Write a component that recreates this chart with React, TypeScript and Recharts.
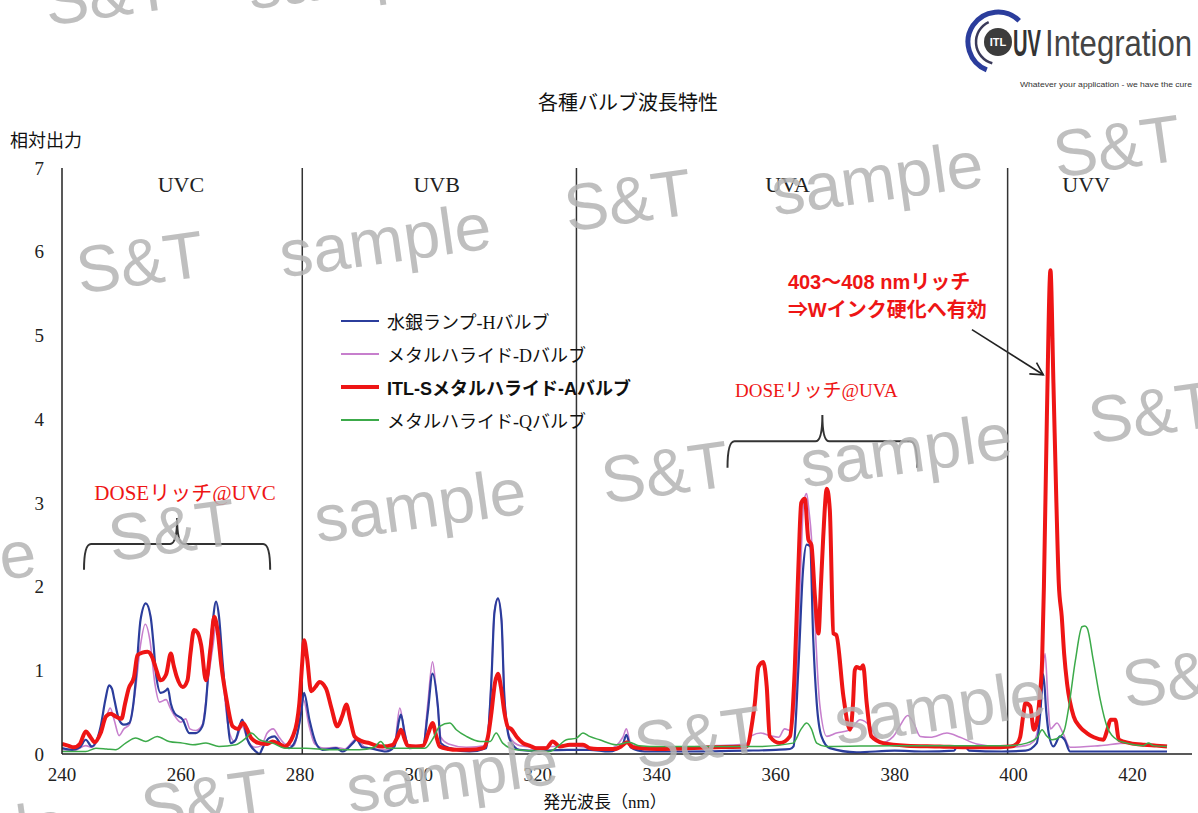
import React from 'react';
import {
  LineChart,
  Line,
  XAxis,
  YAxis,
  ReferenceLine,
  ReferenceArea,
  ReferenceDot,
  Legend,
} from 'recharts';

// [wavelength nm, relative output]
const hgBulb: [number, number][] = [
  [240, 0.07], [241.7, 0.05], [243, 0.08], [244, 0.17], [245, 0.09], [246.5, 0.33], [247.3, 0.65], [247.9, 0.82],
  [248.4, 0.78], [248.8, 0.65], [249.6, 0.41], [250.4, 0.35], [251.3, 0.37], [252, 0.6], [252.4, 0.88], [253.2, 1.6],
  [254.1, 1.8], [254.9, 1.64], [255.4, 1.3], [255.8, 0.96], [256.6, 0.73], [257.5, 0.76], [257.8, 0.78], [258.3, 0.6],
  [258.9, 0.49], [260.3, 0.41], [261.4, 0.25], [262.5, 0.25], [263.6, 0.33], [264.2, 0.6], [264.7, 1.08], [265.3, 1.55],
  [265.9, 1.82], [266.4, 1.64], [267, 1.1], [267.6, 0.61], [268.4, 0.13], [269.2, 0.17], [270.3, 0.41], [271.2, 0.17],
  [272.6, 0.03], [273.2, 0.0], [273.7, 0.07], [274.8, 0.19], [275.7, 0.21], [277.1, 0.09], [278.2, 0.07], [279.3, 0.17],
  [280.2, 0.49], [280.7, 0.73], [281.6, 0.41], [282.7, 0.13], [283.8, 0.05], [286.1, 0.07], [287.2, 0.03], [288.9, 0.13],
  [289.5, 0.17], [290.5, 0.08], [291.7, 0.07], [294.5, 0.03], [295.9, 0.09], [296.7, 0.41], [297, 0.47], [297.6, 0.25],
  [298.4, 0.07], [300.7, 0.09], [301.5, 0.49], [302.3, 0.96], [303.2, 0.57], [303.7, 0.13], [305.2, 0.07], [308.5, 0.03],
  [311.3, 0.07], [312.2, 0.88], [312.7, 1.68], [313.3, 1.86], [313.9, 1.6], [314.4, 0.65], [315.3, 0.17], [316.9, 0.05],
  [320, 0.04], [325, 0.05], [328.7, 0.05], [332, 0.03], [334.3, 0.12], [334.9, 0.23], [335.6, 0.08], [338, 0.03],
  [345, 0.03], [355, 0.04], [360, 0.05], [362.4, 0.06], [363, 0.09], [363.8, 1.0], [364.6, 2.2], [365.2, 2.5],
  [365.8, 2.48], [366.3, 1.4], [366.9, 0.61], [367.7, 0.21], [369.1, 0.07], [373.6, 0.02], [380, 0.04], [385, 0.03],
  [390, 0.04], [390.5, 0.09], [392, 0.08], [392.5, 0.04], [398, 0.03], [402, 0.04], [403.9, 0.13], [404.5, 0.5],
  [405, 0.95], [405.5, 0.5], [405.9, 0.25], [406.7, 0.09], [407.8, 0.21], [408.6, 0.17], [409.5, 0.03], [415, 0.03],
  [420, 0.03], [425.8, 0.03],
];

const dBulb: [number, number][] = [
  [240, 0.05], [242, 0.04], [244, 0.1], [245, 0.08], [246.5, 0.25], [247.5, 0.45], [248.1, 0.55], [248.8, 0.4],
  [249.6, 0.22], [250.4, 0.3], [251.3, 0.35], [252.4, 0.8], [253.2, 1.3], [254, 1.55], [254.8, 1.35], [255.6, 0.85],
  [256.4, 0.62], [257.5, 0.65], [258.2, 0.55], [259, 0.45], [260, 0.38], [260.8, 0.42], [261.5, 0.3], [262.5, 0.28],
  [263.6, 0.35], [264.6, 0.9], [265.4, 1.3], [265.9, 1.55], [266.5, 1.35], [267.2, 0.8], [268, 0.3], [269, 0.15],
  [270.3, 0.33], [271.3, 0.15], [272.5, 0.08], [273.5, 0.1], [274.5, 0.25], [275.5, 0.3], [276.5, 0.2], [277.5, 0.12],
  [279, 0.1], [280, 0.4], [280.6, 0.65], [281.5, 0.35], [282.5, 0.12], [284, 0.07], [286, 0.08], [287.5, 0.06],
  [289.5, 0.18], [291, 0.08], [294.5, 0.05], [295.9, 0.12], [296.8, 0.55], [297.4, 0.35], [298.3, 0.1], [300.7, 0.1],
  [301.5, 0.6], [302.3, 1.1], [303, 0.7], [303.7, 0.2], [305, 0.12], [308, 0.08], [311.3, 0.1], [312.2, 0.9],
  [312.7, 1.7], [313.3, 1.85], [313.9, 1.6], [314.4, 0.7], [315.3, 0.2], [317, 0.1], [320, 0.08], [325, 0.1],
  [328, 0.08], [332, 0.06], [334.3, 0.2], [334.9, 0.3], [335.6, 0.12], [338, 0.07], [345, 0.08], [350, 0.1],
  [355, 0.12], [356, 0.22], [357.5, 0.25], [359, 0.22], [360.5, 0.2], [361.5, 0.3], [362.5, 0.28], [363.5, 0.9],
  [364.2, 2.2], [364.7, 3.0], [365.2, 3.11], [365.6, 2.9], [366, 2.6], [366.6, 1.6], [367.4, 0.6], [368.6, 0.21],
  [370.2, 0.25], [372.5, 0.29], [374.2, 0.41], [375.9, 0.33], [377.6, 0.13], [379.8, 0.21], [381, 0.35], [382.2, 0.46],
  [383.2, 0.37], [384.3, 0.21], [386, 0.2], [388.8, 0.25], [391, 0.2], [393.8, 0.12], [398.9, 0.08], [402, 0.1],
  [403.4, 0.15], [404.5, 0.5], [405.3, 1.2], [405.8, 0.6], [406.2, 0.3], [407.3, 0.37], [408.3, 0.25], [409.5, 0.08],
  [414.5, 0.1], [419.1, 0.13], [422, 0.1], [425.8, 0.1],
];

const itlABulb: [number, number][] = [
  [240, 0.12], [241, 0.1], [242, 0.08], [243, 0.12], [244, 0.27], [244.8, 0.2], [245.5, 0.14], [246.5, 0.25],
  [247.4, 0.45], [248.2, 0.48], [249, 0.45], [250, 0.42], [250.6, 0.6], [251.2, 0.78], [252.1, 0.92], [252.7, 1.18],
  [253.5, 1.21], [254.4, 1.22], [255.2, 1.15], [255.8, 1.02], [256.6, 0.88], [257.5, 0.95], [258.3, 1.2], [258.8, 1.05],
  [259.3, 0.92], [260.3, 0.8], [261.1, 0.88], [261.6, 1.2], [262.2, 1.48], [262.8, 1.45], [263.4, 1.3], [264.2, 0.88],
  [265, 1.28], [265.6, 1.64], [266.2, 1.45], [266.8, 1.05], [267.6, 0.68], [268.7, 0.33], [269.6, 0.3], [270.4, 0.37],
  [271.1, 0.3], [271.8, 0.19], [273.2, 0.13], [274.5, 0.12], [275.4, 0.15], [276.5, 0.12], [277.4, 0.09], [278.2, 0.13],
  [278.8, 0.21], [279.5, 0.38], [279.9, 0.6], [280.4, 1.1], [280.7, 1.36], [281.2, 1.15], [281.9, 0.75], [282.6, 0.8],
  [283.3, 0.86], [284.4, 0.78], [285.3, 0.55], [286.3, 0.33], [287.1, 0.45], [287.8, 0.59], [288.5, 0.4], [289.2, 0.21],
  [290.5, 0.15], [291.7, 0.13], [292.8, 0.1], [293.9, 0.09], [295.6, 0.11], [296.4, 0.2], [297, 0.29], [297.6, 0.18],
  [298.1, 0.1], [299.5, 0.09], [300.7, 0.1], [301.6, 0.25], [302.3, 0.37], [302.9, 0.22], [303.5, 0.09], [305, 0.06],
  [306.3, 0.05], [308.5, 0.05], [310.8, 0.07], [311.6, 0.2], [312.2, 0.49], [312.8, 0.85], [313.3, 0.96], [313.8, 0.8],
  [314.4, 0.49], [315, 0.32], [315.5, 0.3], [316.5, 0.2], [317.5, 0.13], [318.6, 0.1], [319.7, 0.07], [321.4, 0.07],
  [322.5, 0.15], [323.7, 0.09], [325.4, 0.11], [327.6, 0.11], [328.7, 0.07], [330, 0.06], [333, 0.06], [334, 0.09],
  [335, 0.14], [336, 0.08], [340, 0.06], [345, 0.07], [350, 0.08], [355.1, 0.09], [356.1, 0.4], [356.5, 0.61],
  [357.1, 1.04], [357.9, 1.1], [358.5, 0.8], [359, 0.21], [360.7, 0.13], [362.4, 0.21], [363.2, 1.0], [363.8, 2.2],
  [364.3, 3.0], [364.9, 3.05], [365.5, 2.56], [366, 2.5], [366.6, 1.88], [367.2, 1.44], [367.6, 2.0], [368, 2.6],
  [368.6, 3.17], [369.1, 2.92], [369.7, 1.44], [370.2, 1.42], [371.4, 0.68], [372.5, 0.29], [373, 0.6], [373.3, 1.0],
  [373.6, 1.04], [374.3, 1.02], [374.7, 1.06], [375.3, 0.61], [376.1, 0.21], [378.1, 0.13], [382, 0.1], [387.6, 0.09],
  [392, 0.08], [396, 0.08], [399.5, 0.09], [400.5, 0.12], [401.1, 0.2], [401.6, 0.45], [402, 0.61], [402.8, 0.57],
  [403.4, 0.29], [403.9, 0.37], [404.4, 0.7], [404.8, 1.12], [405.1, 2.0], [405.6, 4.03], [406.2, 5.78], [406.7, 4.43],
  [407.2, 3.0], [407.6, 2.04], [408.1, 1.64], [408.5, 1.2], [409, 0.84], [410.1, 0.45], [411.2, 0.32], [412.3, 0.25],
  [413.5, 0.2], [415.1, 0.17], [415.8, 0.3], [416.3, 0.41], [417.1, 0.41], [417.7, 0.17], [419.6, 0.13], [422, 0.11],
  [424, 0.1], [425.8, 0.09],
];

const qBulb: [number, number][] = [
  [240, 0.03], [242, 0.03], [244, 0.03], [245.7, 0.07], [247.5, 0.06], [249, 0.05], [250.7, 0.13], [252.4, 0.19],
  [254.1, 0.15], [256, 0.21], [258, 0.15], [260.3, 0.13], [262, 0.11], [264.2, 0.13], [266.4, 0.09], [269.2, 0.11],
  [270.9, 0.19], [271.8, 0.25], [273.2, 0.17], [275.4, 0.13], [277.6, 0.07], [281, 0.07], [285, 0.05], [290, 0.05],
  [292.5, 0.08], [293.6, 0.15], [294.6, 0.07], [298, 0.07], [301, 0.07], [302.5, 0.2], [303.5, 0.33], [305.2, 0.37],
  [306.3, 0.29], [308, 0.21], [310.3, 0.15], [312, 0.15], [313, 0.25], [314.1, 0.13], [316.4, 0.05], [322, 0.03],
  [323.5, 0.1], [324.8, 0.17], [326.5, 0.19], [327.6, 0.25], [328.7, 0.21], [330.4, 0.17], [333.2, 0.11], [335.4, 0.14],
  [337, 0.1], [340.5, 0.09], [350, 0.09], [357.3, 0.09], [362.9, 0.13], [364.3, 0.3], [365.2, 0.37], [366, 0.3],
  [366.9, 0.13], [368.5, 0.09], [380, 0.1], [390, 0.1], [399, 0.1], [402.2, 0.13], [404, 0.2], [404.8, 0.29],
  [405.5, 0.22], [406.5, 0.17], [407.9, 0.21], [408.6, 0.3], [409.3, 0.57], [410.4, 1.12], [411.5, 1.52], [412, 1.53],
  [412.4, 1.5], [413.4, 1.12], [414.6, 0.64], [415.7, 0.33], [417.4, 0.17], [419, 0.13], [421.8, 0.1], [422.7, 0.13],
  [423.5, 0.1], [425.8, 0.09],
];

const xTicks = [240, 260, 280, 300, 320, 340, 360, 380, 400, 420];
const yTicks = [0, 1, 2, 3, 4, 5, 6, 7];
const bandEdges = [280.4, 326.5, 399];
const bandNames = ['UVC', 'UVB', 'UVA', 'UVV'];
const bandCenters = [260, 303, 362, 412.2];

const SERIF = "'Liberation Serif', 'Times New Roman', 'Noto Sans CJK JP', serif";
const SANS = "'Liberation Sans', Arial, 'Noto Sans CJK JP', sans-serif";
const RED = '#ee1515';

const series = [
  { key: 'hg', name: '水銀ランプ-Hバルブ', points: hgBulb, color: '#2b3d9c', width: 2.2, bold: false },
  { key: 'd', name: 'メタルハライド-Dバルブ', points: dBulb, color: '#c77fcd', width: 1.6, bold: false },
  { key: 'a', name: 'ITL-Sメタルハライド-Aバルブ', points: itlABulb, color: RED, width: 4, bold: true },
  { key: 'q', name: 'メタルハライド-Qバルブ', points: qBulb, color: '#3caa4a', width: 1.5, bold: false },
];
const drawOrder = ['d', 'hg', 'a', 'q'];

const toRows = (pts: [number, number][]) => pts.map(([nm, v]) => ({ nm, v }));

const textAt = (text: string, opts: any) => (p: any) => (
  <text
    x={p.cx}
    y={p.cy}
    textAnchor={opts.anchor || 'middle'}
    dominantBaseline="central"
    fontFamily={opts.family || SERIF}
    fontSize={opts.size || 18}
    fontWeight={opts.weight || 'normal'}
    fill={opts.fill || '#222'}
  >
    {text}
  </text>
);

const braceShape = (p: any) => {
  const { x, y, width: w, height: h } = p;
  const hy = y + h * 0.5;
  const cx = x + w / 2;
  const r = 7;
  const d = `M${x},${y + h} Q${x},${hy} ${x + r},${hy} L${cx - r},${hy} Q${cx},${hy} ${cx},${y} ` +
    `Q${cx},${hy} ${cx + r},${hy} L${x + w - r},${hy} Q${x + w},${hy} ${x + w},${y + h}`;
  return <path d={d} fill="none" stroke="#333" strokeWidth={2} />;
};

const arrowShape = (p: any) => {
  const x1 = p.x, y1 = p.y, x2 = p.x + p.width, y2 = p.y + p.height;
  const a = Math.atan2(y2 - y1, x2 - x1);
  const len = 14, spread = 0.5;
  const h1 = [x2 - len * Math.cos(a - spread), y2 - len * Math.sin(a - spread)];
  const h2 = [x2 - len * Math.cos(a + spread), y2 - len * Math.sin(a + spread)];
  return (
    <g stroke="#222" strokeWidth={1.6} fill="none">
      <line x1={x1} y1={y1} x2={x2} y2={y2} />
      <polyline points={`${h1[0]},${h1[1]} ${x2},${y2} ${h2[0]},${h2[1]}`} />
    </g>
  );
};

const LegendBox = () => (
  <div style={{ display: 'flex', flexDirection: 'column' }}>
    {series.map((s) => (
      <div key={s.key} style={{ display: 'flex', alignItems: 'center', height: 33 }}>
        <svg width={38} height={6} style={{ marginRight: 8 }}>
          <line x1={0} y1={3} x2={38} y2={3} stroke={s.color} strokeWidth={s.bold ? 4 : 2.2} />
        </svg>
        <span
          style={{
            fontFamily: s.bold ? SANS : SERIF,
            fontWeight: s.bold ? 'bold' : 'normal',
            fontSize: 18,
            color: '#111',
            whiteSpace: 'nowrap',
          }}
        >
          {s.name}
        </span>
      </div>
    ))}
  </div>
);

const marks: [string, number, number][] = [
  ['S&T', 108, -6], ['sample', 353, -28],
  ['sample', -105, 302], ['S&T', 140, 262], ['sample', 385, 240], ['S&T', 628, 200], ['sample', 877, 178], ['S&T', 1117, 146],
  ['sample', -70, 567], ['S&T', 172, 530], ['sample', 420, 505], ['S&T', 665, 472], ['sample', 906, 450], ['S&T', 1152, 412],
  ['sample', -38, 837], ['S&T', 205, 800], ['sample', 452, 775], ['S&T', 698, 737], ['sample', 940, 707], ['S&T', 1186, 676],
];

// arc from angle a0 to a1 (degrees, svg orientation), drawn counter-clockwise
const arc = (cx: number, cy: number, r: number, a0: number, a1: number) => {
  const rad = (d: number) => (d * Math.PI) / 180;
  const sx = cx + r * Math.cos(rad(a0)), sy = cy + r * Math.sin(rad(a0));
  const ex = cx + r * Math.cos(rad(a1)), ey = cy + r * Math.sin(rad(a1));
  const span = ((a0 - a1) % 360 + 360) % 360;
  return `M${sx},${sy} A${r},${r} 0 ${span > 180 ? 1 : 0} 0 ${ex},${ey}`;
};

const Logo = () => (
  <g>
    <path d={arc(998, 42, 30, -45, 112)} fill="none" stroke="#2b3d9c" strokeWidth={5} />
    <path d={arc(998, 42, 22, -115, 105)} fill="none" stroke="#3a3a5a" strokeWidth={2.5} />
    <circle cx={998} cy={42} r={14} fill="#3c3c3c" />
    <text x={998} y={42} textAnchor="middle" dominantBaseline="central" fontFamily={SANS} fontWeight="bold" fontSize={11} fill="#fff">
      ITL
    </text>
    <text x={1013} y={56} fontFamily={SANS} fontWeight="bold" fontSize={36} fill="#333" textLength={28} lengthAdjust="spacingAndGlyphs">
      UV
    </text>
    <text x={1045} y={56} fontFamily={SANS} fontSize={36} fill="#444" textLength={147} lengthAdjust="spacingAndGlyphs">
      Integration
    </text>
    <text x={1020} y={87} fontFamily={SANS} fontSize={8} fill="#333" textLength={172} lengthAdjust="spacingAndGlyphs">
      Whatever your application - we have the cure
    </text>
  </g>
);

export default function App() {
  return (
    <div style={{ position: 'absolute', left: 0, top: 0, width: 1198, height: 813, background: '#fff', overflow: 'hidden' }}>
      <LineChart width={1198} height={813} margin={{ top: 168, right: 6, bottom: 29, left: 2 }}>
        <XAxis
          dataKey="nm"
          type="number"
          domain={[240, 430]}
          ticks={xTicks}
          tickLine={false}
          tickMargin={8}
          height={30}
          axisLine={{ stroke: '#222', strokeWidth: 1.5 }}
          tick={{ fontFamily: SERIF, fontSize: 19, fill: '#222' }}
          allowDataOverflow
        />
        <YAxis
          type="number"
          domain={[0, 7]}
          ticks={yTicks}
          width={60}
          tickLine={false}
          tickMargin={12}
          axisLine={{ stroke: '#222', strokeWidth: 1.5 }}
          tick={{ fontFamily: SERIF, fontSize: 19, fill: '#222' }}
        />
        {bandEdges.map((e) => (
          <ReferenceLine key={e} x={e} stroke="#333" strokeWidth={1.5} />
        ))}
        {bandNames.map((n, i) => (
          <ReferenceDot key={n} x={bandCenters[i]} y={6.8} r={1} shape={textAt(n, { size: 22 })} />
        ))}
        <ReferenceArea x1={243.7} x2={275} y1={2.2} y2={2.82} shape={braceShape} />
        <ReferenceArea x1={351.9} x2={383.8} y1={3.42} y2={4.05} shape={braceShape} />
        <ReferenceDot x={260.7} y={3.12} r={1} shape={textAt('DOSEリッチ@UVC', { fill: RED, size: 21 })} />
        <ReferenceDot x={366.85} y={4.34} r={1} shape={textAt('DOSEリッチ@UVA', { fill: RED, size: 19 })} />
        <ReferenceDot x={362.05} y={5.64} r={1}
          shape={textAt('403〜408 nmリッチ', { fill: RED, size: 20, weight: 'bold', family: SANS, anchor: 'start' })} />
        <ReferenceDot x={362.05} y={5.3} r={1}
          shape={textAt('⇒Wインク硬化へ有効', { fill: RED, size: 20, weight: 'bold', family: SANS, anchor: 'start' })} />
        <ReferenceArea x1={393} x2={405} y1={4.53} y2={5.07} shape={arrowShape} />
        {drawOrder.map((k) => {
          const s = series.find((x) => x.key === k)!;
          return (
            <Line
              key={s.key}
              data={toRows(s.points)}
              dataKey="v"
              name={s.name}
              type="monotone"
              stroke={s.color}
              strokeWidth={s.width}
              dot={false}
              activeDot={false}
              isAnimationActive={false}
            />
          );
        })}
        <Legend
          layout="vertical"
          align="center"
          verticalAlign="middle"
          content={() => <LegendBox />}
          wrapperStyle={{ left: 341, top: 304, width: 330 }}
        />
      </LineChart>
      <svg width={1198} height={813} style={{ position: 'absolute', left: 0, top: 0, pointerEvents: 'none' }}>
        <text x={628} y={103} textAnchor="middle" dominantBaseline="central" fontFamily={SERIF} fontSize={20} fill="#111">
          各種バルブ波長特性
        </text>
        <text x={10} y={141} dominantBaseline="central" fontFamily={SERIF} fontSize={18} fill="#111">
          相対出力
        </text>
        <text x={605} y={802} textAnchor="middle" dominantBaseline="central" fontFamily={SERIF} fontSize={17} fill="#111">
          発光波長（nm）
        </text>
        <Logo />
        {marks.map(([t, x, y], i) => (
          <text
            key={i}
            x={x}
            y={y}
            textAnchor="middle"
            dominantBaseline="central"
            fontFamily={SANS}
            fontSize={66}
            fill="#b4b4b4"
            fillOpacity={0.85}
            transform={`rotate(-8 ${x} ${y})`}
          >
            {t}
          </text>
        ))}
      </svg>
    </div>
  );
}
